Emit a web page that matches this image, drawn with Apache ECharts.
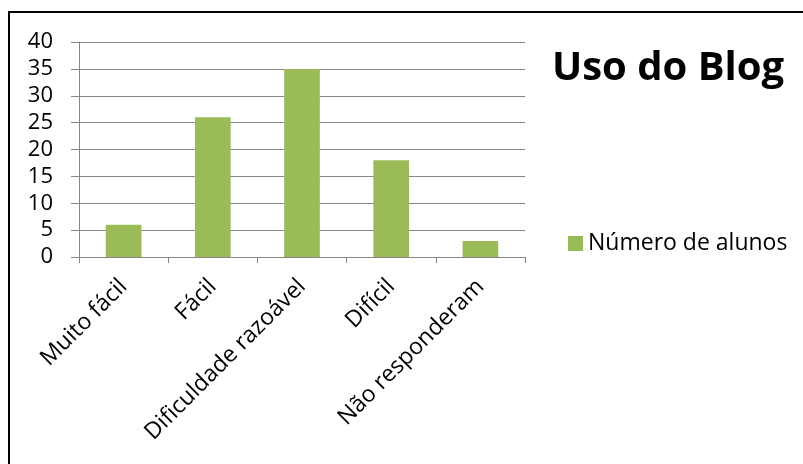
<!DOCTYPE html>
<html>
<head>
<meta charset="utf-8">
<script src="https://cdn.jsdelivr.net/npm/echarts@6/dist/echarts.min.js"></script>
<style>
html,body{margin:0;padding:0;background:#fff;}
#c{width:803px;height:464px;}
</style>
</head>
<body>
<div id="c"></div>
<script>
const categories = ['Muito fácil', 'Fácil', 'Dificuldade razoável', 'Difícil', 'Não responderam'];
const values = [6, 26, 35, 18, 3];
const seriesName = 'Número de alunos';
const titleText = 'Uso do Blog';

const FONT = 'Open Sans';
const chart = echarts.init(document.getElementById('c'), null, {renderer: 'canvas'});
chart.setOption({
  animation: false,
  backgroundColor: '#fff',
  title: {
    text: titleText,
    left: 663, top: 44, textAlign: 'center',
    textStyle: {fontFamily: FONT, fontWeight: 'bold', fontSize: 40, color: '#000'}
  },
  legend: {
    data: [seriesName],
    left: 563, top: 227,
    itemWidth: 15, itemHeight: 15, itemGap: 6,
    icon: 'rect',
    textStyle: {fontFamily: FONT, fontSize: 23, color: '#000', padding: [0,0,0,0]}
  },
  grid: {left: 79, right: 278, top: 42, bottom: 207, containLabel: false},
  xAxis: {
    type: 'category',
    data: categories,
    axisLine: {lineStyle: {color: '#868686', width: 1}},
    axisTick: {show: true, length: 6, lineStyle: {color: '#868686'}},
    axisLabel: {rotate: 45, fontFamily: FONT, fontSize: 23, color: '#000', margin: 26, interval: 0}
  },
  yAxis: {
    type: 'value', min: 0, max: 40, interval: 5,
    axisLine: {show: true, lineStyle: {color: '#868686', width: 1}},
    axisTick: {show: true, length: 8, inside: false, lineStyle: {color: '#868686'}},
    splitLine: {lineStyle: {color: '#868686', width: 1}},
    axisLabel: {fontFamily: FONT, fontSize: 22, color: '#000', margin: 26}
  },
  series: [{
    name: seriesName,
    type: 'bar',
    data: values,
    barWidth: '40%',
    itemStyle: {color: '#9BBB59'}
  }],
  graphic: [
    {type: 'line', shape: {x1: 8, y1: 12, x2: 803, y2: 12}, style: {stroke: '#000', lineWidth: 2}, z: 100},
    {type: 'line', shape: {x1: 9, y1: 11, x2: 9, y2: 464}, style: {stroke: '#000', lineWidth: 2}, z: 100}
  ]
});
</script>
</body>
</html>
